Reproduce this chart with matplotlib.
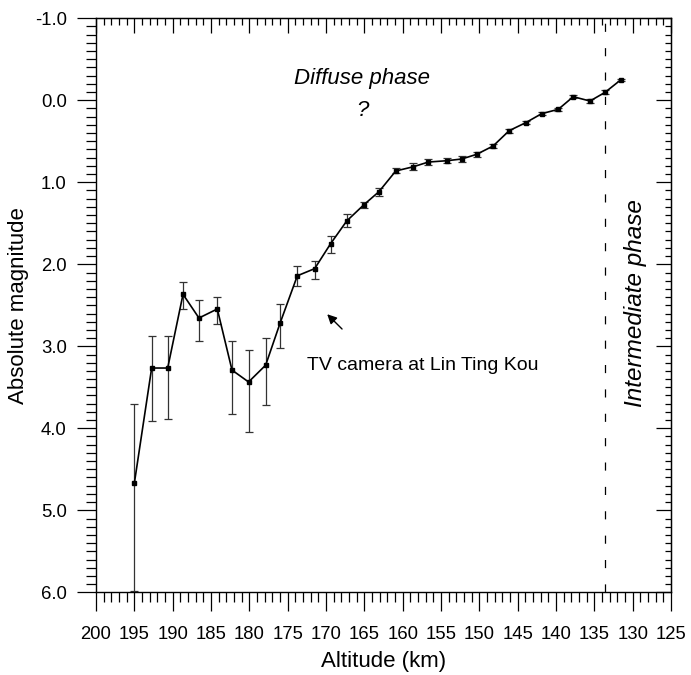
import matplotlib
matplotlib.use("Agg")
import matplotlib.pyplot as plt
from matplotlib.ticker import MultipleLocator, FormatStrFormatter
import numpy as np

plt.rcParams['font.family'] = ['Liberation Sans', 'DejaVu Sans']
plt.rcParams['axes.unicode_minus'] = False

altitude = [195.0, 192.74, 190.65, 188.65, 186.57, 184.18, 182.26, 180.1, 177.87, 176.0,
            173.74, 171.48, 169.4, 167.3, 165.05, 163.1, 160.9, 158.6, 156.65, 154.26,
            152.3, 150.35, 148.2, 146.1, 143.95, 141.87, 139.7, 137.75, 135.57, 133.6, 131.57]
magnitude = [4.67, 3.265, 3.265, 2.366, 2.655, 2.545, 3.29, 3.435, 3.23, 2.72,
             2.14, 2.053, 1.749, 1.472, 1.273, 1.115, 0.862, 0.81, 0.753, 0.737,
             0.716, 0.659, 0.557, 0.37, 0.273, 0.163, 0.11, -0.044, 0.009, -0.097, -0.248]
mag_bright = [3.70, 2.875, 2.88, 2.21, 2.43, 2.40, 2.93, 3.05, 2.895, 2.49,
              2.02, 1.96, 1.66, 1.39, 1.24, 1.07, 0.82, 0.77, 0.72, 0.705,
              0.68, 0.63, 0.53, 0.345, 0.25, 0.14, 0.09, -0.064, -0.011, -0.122, -0.258]
mag_faint = [5.98, 3.91, 3.89, 2.54, 2.94, 2.73, 3.82, 4.05, 3.71, 3.02,
             2.265, 2.175, 1.86, 1.54, 1.317, 1.163, 0.89, 0.85, 0.79, 0.77,
             0.75, 0.69, 0.58, 0.395, 0.295, 0.185, 0.13, -0.024, 0.029, -0.072, -0.238]
phase_boundary = 133.6

x_ticks = list(range(200, 124, -5))
y_ticks = [-1.0, 0.0, 1.0, 2.0, 3.0, 4.0, 5.0, 6.0]

mag = np.array(magnitude)
yerr = [mag - np.array(mag_bright), np.array(mag_faint) - mag]

fig = plt.figure(figsize=(6.91, 6.75), dpi=100)
ax = fig.add_axes([96/691, 1 - 592.3/675, (671 - 96)/691, (592.3 - 18.3)/675])

ax.errorbar(altitude, magnitude, yerr=yerr, fmt='none', ecolor='#333333',
            elinewidth=0.9, capsize=3, capthick=0.9, zorder=2)
ax.plot(altitude, magnitude, color='black', lw=1.2, marker='s', ms=3.2,
        mfc='black', mec='black', zorder=3)

ax.axvline(phase_boundary, color='black', lw=0.9, ls=(0, (6.5, 13)), zorder=1)

ax.set_xlim(200, 125)
ax.set_ylim(6.0, -1.0)
ax.set_xticks(x_ticks)
ax.set_yticks(y_ticks)
ax.xaxis.set_minor_locator(MultipleLocator(1))
ax.yaxis.set_minor_locator(MultipleLocator(0.1))
ax.yaxis.set_major_formatter(FormatStrFormatter('%.1f'))
ax.tick_params(axis='both', which='major', direction='out', length=14, width=0.9,
               labelsize=13.3, top=False, right=False)
ax.tick_params(axis='both', which='minor', direction='out', length=7, width=0.9,
               top=False, right=False)
ax.tick_params(axis='x', which='major', pad=10)
ax.tick_params(axis='y', which='major', pad=7)

for sp in ax.spines.values():
    sp.set_linewidth(1.0)

secx = ax.secondary_xaxis('top')
secx.set_xticks(x_ticks)
secx.xaxis.set_minor_locator(MultipleLocator(1))
secx.tick_params(axis='x', which='major', direction='in', length=10.5, width=0.9, labeltop=False)
secx.tick_params(axis='x', which='minor', direction='in', length=5, width=0.9)

secy = ax.secondary_yaxis('right')
secy.set_yticks(y_ticks)
secy.yaxis.set_minor_locator(MultipleLocator(0.1))
secy.tick_params(axis='y', which='major', direction='in', length=11, width=0.9, labelright=False)
secy.tick_params(axis='y', which='minor', direction='in', length=4, width=0.9)

ax.set_xlabel('Altitude (km)', fontsize=16, labelpad=6)
ax.set_ylabel('Absolute magnitude', fontsize=16, labelpad=4)

ax.text(165.3, -0.26, 'Diffuse phase', fontsize=16, style='italic', ha='center', va='center')
ax.text(165.3, 0.13, '?', fontsize=16, style='italic', ha='center', va='center')
ax.text(157.4, 3.24, 'TV camera at Lin Ting Kou', fontsize=14, ha='center', va='center')
ax.annotate('', xy=(170.1, 2.585), xytext=(167.65, 2.813),
            arrowprops=dict(arrowstyle='-|>', color='black', lw=1.0, mutation_scale=14))
ax.text(129.6, 2.47, 'Intermediate phase', fontsize=17.5, style='italic', rotation=90,
        ha='center', va='center')

fig.savefig('out.png', dpi=100)
